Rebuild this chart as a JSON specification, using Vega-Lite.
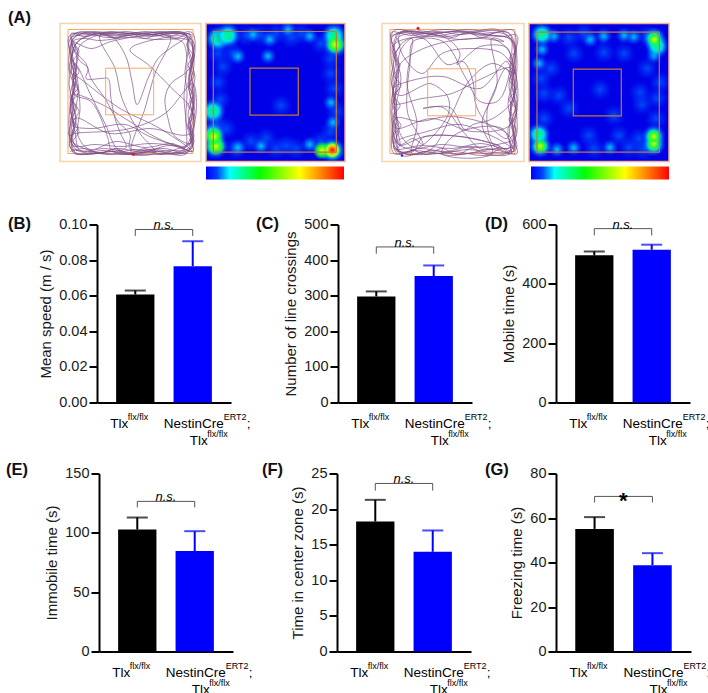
{
"$schema":"https://vega.github.io/schema/vega-lite/v6.json",
"padding":{"left":0,"top":3.5,"right":0,"bottom":0},"background":"white","spacing":0,
"config":{"font":"Liberation Sans","view":{"stroke":null},
"axis":{"grid":false,"domainColor":"#000","domainWidth":2,"tickColor":"#000","tickWidth":2,"tickSize":8,"labelFontSize":14.5,"titleFontSize":15,"titleFontWeight":"normal","labelColor":"#1a1a1a","titleColor":"#1a1a1a","titlePadding":5,"labelPadding":2},
"title":{"fontSize":16.5,"fontWeight":"bold","anchor":"start","frame":"group","color":"#111"},
"style":{"la":{"dx":-25,"dy":21,"fontSize":13.5,"align":"left"},"lb":{"dx":-7.5,"dy":14,"fontSize":9,"align":"left"},"lc":{"dx":-29,"dy":21,"fontSize":13.5,"align":"left"},"ld":{"dx":31,"dy":14,"fontSize":9,"align":"left"},"le":{"dx":54,"dy":21,"fontSize":13.5,"align":"left"},"lf":{"dx":-3,"dy":38,"fontSize":13.5,"align":"left"},"lg":{"dx":14.5,"dy":31,"fontSize":9,"align":"left"},"ns":{"dx":28.7,"dy":-4,"fontSize":13,"fontStyle":"italic","align":"center"},"star":{"dx":28.7,"dy":5,"fontSize":22,"fontWeight":"bold","align":"center"},"tb":{"fontSize":16.4,"align":"left"},"ts":{"fontSize":11,"align":"left"}}},
"datasets":{
"nil":[{"a":1}],
"la":[{"g":"Tlx","v":0,"t":"Tlx"}],"lb":[{"g":"Tlx","v":0,"t":"flx/flx"}],"lc":[{"g":"Nestin","v":0,"t":"NestinCre"}],"ld":[{"g":"Nestin","v":0,"t":"ERT2"}],"le":[{"g":"Nestin","v":0,"t":";"}],"lf":[{"g":"Nestin","v":0,"t":"Tlx"}],"lg":[{"g":"Nestin","v":0,"t":"flx/flx"}],
"trackA":[{"x":73,"y":130},{"x":50,"y":128},{"x":28,"y":131},{"x":12,"y":127},{"x":10,"y":105},{"x":13,"y":82},{"x":9,"y":60},{"x":12,"y":38},{"x":9,"y":18},{"x":18,"y":9},{"x":40,"y":12},{"x":65,"y":8},{"x":90,"y":11},{"x":115,"y":8},{"x":130,"y":12},{"x":133,"y":35},{"x":129,"y":58},{"x":134,"y":80},{"x":130,"y":105},{"x":132,"y":124},{"x":118,"y":129},{"x":95,"y":126},{"x":70,"y":129},{"x":45,"y":125},{"x":20,"y":127},{"x":15,"y":108},{"x":11,"y":88},{"x":15,"y":66},{"x":11,"y":44},{"x":15,"y":22},{"x":28,"y":12},{"x":52,"y":10},{"x":78,"y":13},{"x":104,"y":10},{"x":127,"y":13},{"x":129,"y":32},{"x":135,"y":54},{"x":130,"y":76},{"x":134,"y":98},{"x":129,"y":118},{"x":122,"y":127},{"x":100,"y":130},{"x":75,"y":126},{"x":48,"y":131},{"x":22,"y":124},{"x":13,"y":118},{"x":16,"y":96},{"x":10,"y":74},{"x":14,"y":52},{"x":10,"y":30},{"x":14,"y":14},{"x":35,"y":8},{"x":60,"y":12},{"x":85,"y":8},{"x":110,"y":12},{"x":132,"y":9},{"x":135,"y":28},{"x":131,"y":48},{"x":133,"y":72},{"x":128,"y":92},{"x":133,"y":112},{"x":127,"y":129},{"x":105,"y":125},{"x":70,"y":125},{"x":70,"y":111},{"x":58,"y":98},{"x":45,"y":75},{"x":31,"y":55},{"x":26,"y":40},{"x":17,"y":30},{"x":11,"y":18},{"x":31,"y":25},{"x":51,"y":18},{"x":91,"y":11},{"x":125,"y":10},{"x":128,"y":25},{"x":125,"y":48},{"x":127,"y":70},{"x":126,"y":98},{"x":131,"y":120},{"x":114,"y":112},{"x":108,"y":95},{"x":105,"y":75},{"x":111,"y":60},{"x":127,"y":48},{"x":134,"y":34},{"x":126,"y":14},{"x":100,"y":15},{"x":70,"y":26},{"x":88,"y":41},{"x":112,"y":65},{"x":131,"y":85},{"x":134,"y":105},{"x":127,"y":122},{"x":92,"y":114},{"x":65,"y":101},{"x":31,"y":105},{"x":11,"y":101},{"x":14,"y":82},{"x":12,"y":71},{"x":42,"y":81},{"x":65,"y":95},{"x":98,"y":115},{"x":128,"y":128},{"x":90,"y":131},{"x":52,"y":127},{"x":48,"y":115},{"x":41,"y":95},{"x":31,"y":78},{"x":13,"y":70},{"x":16,"y":48},{"x":20,"y":22},{"x":48,"y":11},{"x":65,"y":31},{"x":72,"y":58},{"x":77,"y":81},{"x":88,"y":55},{"x":98,"y":35},{"x":110,"y":25},{"x":127,"y":12},{"x":100,"y":9},{"x":75,"y":11},{"x":48,"y":14},{"x":25,"y":10},{"x":12,"y":12},{"x":18,"y":35},{"x":28,"y":45},{"x":26,"y":55},{"x":41,"y":55},{"x":48,"y":55},{"x":51,"y":75},{"x":55,"y":95},{"x":61,"y":111},{"x":66,"y":124},{"x":40,"y":129},{"x":15,"y":129},{"x":15,"y":95},{"x":50,"y":110},{"x":90,"y":105},{"x":130,"y":110},{"x":133,"y":60},{"x":105,"y":90},{"x":70,"y":105},{"x":15,"y":110},{"x":9,"y":112},{"x":14,"y":90},{"x":18,"y":70},{"x":15,"y":50},{"x":18,"y":30},{"x":12,"y":20},{"x":10,"y":48},{"x":20,"y":55},{"x":60,"y":85},{"x":100,"y":105},{"x":132,"y":128},{"x":110,"y":122},{"x":72,"y":130},{"x":85,"y":85},{"x":95,"y":50},{"x":110,"y":12},{"x":70,"y":10},{"x":40,"y":12},{"x":55,"y":45},{"x":62,"y":75},{"x":80,"y":110},{"x":95,"y":129},{"x":60,"y":128},{"x":45,"y":100},{"x":30,"y":70},{"x":15,"y":40},{"x":13,"y":68},{"x":9,"y":95},{"x":13,"y":122},{"x":35,"y":121},{"x":62,"y":123},{"x":90,"y":120},{"x":118,"y":123},{"x":133,"y":128},{"x":130,"y":110},{"x":135,"y":88},{"x":129,"y":66},{"x":134,"y":42},{"x":130,"y":18},{"x":108,"y":14},{"x":82,"y":10},{"x":56,"y":14},{"x":30,"y":9},{"x":13,"y":16},{"x":18,"y":60},{"x":20,"y":85},{"x":18,"y":112},{"x":30,"y":126},{"x":56,"y":118},{"x":85,"y":124},{"x":112,"y":120},{"x":125,"y":124},{"x":126,"y":100},{"x":124,"y":72},{"x":127,"y":40},{"x":122,"y":18},{"x":95,"y":16},{"x":68,"y":14},{"x":40,"y":17},{"x":20,"y":16},{"x":11,"y":36},{"x":16,"y":58},{"x":10,"y":80},{"x":14,"y":104},{"x":10,"y":124},{"x":30,"y":128},{"x":60,"y":131},{"x":95,"y":128},{"x":125,"y":131},{"x":134,"y":118},{"x":128,"y":102},{"x":133,"y":84},{"x":128,"y":60},{"x":132,"y":38},{"x":127,"y":20},{"x":132,"y":12},{"x":112,"y":10},{"x":92,"y":13},{"x":70,"y":10},{"x":46,"y":9},{"x":24,"y":13},{"x":11,"y":10},{"x":13,"y":28},{"x":9,"y":46},{"x":14,"y":64},{"x":10,"y":86},{"x":14,"y":100},{"x":11,"y":116},{"x":16,"y":126},{"x":38,"y":130},{"x":58,"y":125},{"x":82,"y":129},{"x":108,"y":127},{"x":128,"y":125},{"x":131,"y":96},{"x":135,"y":72},{"x":130,"y":44},{"x":134,"y":20},{"x":120,"y":9},{"x":98,"y":12},{"x":74,"y":9},{"x":50,"y":12},{"x":26,"y":8},{"x":9,"y":13},{"x":12,"y":34},{"x":16,"y":54},{"x":12,"y":76},{"x":16,"y":94},{"x":12,"y":112},{"x":14,"y":130},{"x":44,"y":127},{"x":68,"y":131},{"x":92,"y":127},{"x":120,"y":130},{"x":133,"y":120},{"x":129,"y":100},{"x":134,"y":76},{"x":129,"y":52},{"x":133,"y":30},{"x":129,"y":14},{"x":105,"y":8},{"x":78,"y":11},{"x":52,"y":8},{"x":28,"y":11},{"x":12,"y":14},{"x":16,"y":24},{"x":11,"y":34},{"x":17,"y":44},{"x":12,"y":54},{"x":18,"y":64},{"x":11,"y":74},{"x":17,"y":84},{"x":12,"y":94},{"x":18,"y":104},{"x":11,"y":114},{"x":17,"y":124},{"x":13,"y":118},{"x":19,"y":108},{"x":13,"y":98},{"x":19,"y":88},{"x":13,"y":78},{"x":19,"y":68},{"x":13,"y":58},{"x":19,"y":48},{"x":13,"y":38},{"x":19,"y":28},{"x":13,"y":18},{"x":25,"y":14},{"x":40,"y":9},{"x":55,"y":15},{"x":70,"y":10},{"x":85,"y":15},{"x":100,"y":10},{"x":115,"y":15},{"x":130,"y":10},{"x":127,"y":22},{"x":133,"y":32},{"x":128,"y":42},{"x":134,"y":52},{"x":128,"y":62},{"x":134,"y":72},{"x":128,"y":82},{"x":134,"y":92},{"x":128,"y":102},{"x":134,"y":112},{"x":128,"y":122},{"x":115,"y":126},{"x":100,"y":131},{"x":85,"y":125},{"x":70,"y":130},{"x":55,"y":125},{"x":40,"y":130},{"x":25,"y":125},{"x":10,"y":128}],
"trackB":[{"x":36,"y":7},{"x":60,"y":9},{"x":85,"y":6},{"x":110,"y":9},{"x":131,"y":7},{"x":134,"y":28},{"x":130,"y":52},{"x":135,"y":76},{"x":130,"y":100},{"x":134,"y":126},{"x":112,"y":129},{"x":85,"y":126},{"x":58,"y":130},{"x":32,"y":127},{"x":12,"y":130},{"x":10,"y":105},{"x":13,"y":80},{"x":9,"y":55},{"x":13,"y":30},{"x":9,"y":9},{"x":30,"y":12},{"x":55,"y":8},{"x":80,"y":11},{"x":105,"y":7},{"x":128,"y":11},{"x":130,"y":35},{"x":135,"y":60},{"x":129,"y":85},{"x":134,"y":110},{"x":128,"y":128},{"x":100,"y":132},{"x":72,"y":128},{"x":45,"y":131},{"x":18,"y":128},{"x":14,"y":110},{"x":10,"y":88},{"x":15,"y":62},{"x":11,"y":38},{"x":16,"y":14},{"x":40,"y":10},{"x":64,"y":13},{"x":92,"y":9},{"x":120,"y":13},{"x":135,"y":12},{"x":131,"y":40},{"x":133,"y":68},{"x":128,"y":95},{"x":132,"y":122},{"x":105,"y":126},{"x":78,"y":131},{"x":50,"y":127},{"x":25,"y":131},{"x":11,"y":120},{"x":15,"y":96},{"x":11,"y":70},{"x":15,"y":45},{"x":11,"y":22},{"x":41,"y":15},{"x":65,"y":41},{"x":81,"y":38},{"x":91,"y":58},{"x":93,"y":78},{"x":101,"y":95},{"x":125,"y":115},{"x":128,"y":95},{"x":125,"y":38},{"x":98,"y":65},{"x":61,"y":53},{"x":38,"y":55},{"x":11,"y":65},{"x":18,"y":72},{"x":41,"y":62},{"x":48,"y":60},{"x":65,"y":72},{"x":67,"y":88},{"x":55,"y":108},{"x":35,"y":125},{"x":15,"y":127},{"x":13,"y":95},{"x":38,"y":98},{"x":65,"y":93},{"x":98,"y":98},{"x":126,"y":111},{"x":133,"y":125},{"x":115,"y":115},{"x":78,"y":101},{"x":45,"y":108},{"x":15,"y":118},{"x":18,"y":122},{"x":43,"y":113},{"x":78,"y":113},{"x":118,"y":123},{"x":100,"y":126},{"x":81,"y":108},{"x":61,"y":84},{"x":41,"y":85},{"x":68,"y":84},{"x":83,"y":106},{"x":91,"y":101},{"x":111,"y":95},{"x":131,"y":75},{"x":124,"y":45},{"x":112,"y":68},{"x":105,"y":88},{"x":111,"y":121},{"x":128,"y":128},{"x":120,"y":105},{"x":75,"y":110},{"x":60,"y":130},{"x":110,"y":130},{"x":100,"y":100},{"x":115,"y":60},{"x":110,"y":15},{"x":122,"y":18},{"x":98,"y":15},{"x":65,"y":18},{"x":35,"y":28},{"x":18,"y":41},{"x":14,"y":62},{"x":13,"y":98},{"x":18,"y":121},{"x":31,"y":115},{"x":41,"y":121},{"x":26,"y":91},{"x":25,"y":68},{"x":28,"y":41},{"x":31,"y":18},{"x":61,"y":18},{"x":84,"y":55},{"x":98,"y":78},{"x":115,"y":78},{"x":125,"y":60},{"x":126,"y":25},{"x":98,"y":23},{"x":88,"y":30},{"x":75,"y":41},{"x":78,"y":30},{"x":65,"y":15},{"x":40,"y":9},{"x":18,"y":10},{"x":20,"y":30},{"x":40,"y":50},{"x":60,"y":30},{"x":90,"y":25},{"x":120,"y":30},{"x":133,"y":50},{"x":110,"y":40},{"x":85,"y":60},{"x":70,"y":90},{"x":50,"y":125},{"x":30,"y":130},{"x":35,"y":100},{"x":25,"y":60},{"x":30,"y":15},{"x":18,"y":28},{"x":16,"y":65},{"x":12,"y":80},{"x":40,"y":75},{"x":70,"y":70},{"x":100,"y":55},{"x":130,"y":45},{"x":130,"y":100},{"x":90,"y":108},{"x":50,"y":95},{"x":15,"y":105},{"x":13,"y":100},{"x":18,"y":121},{"x":14,"y":127},{"x":31,"y":128},{"x":41,"y":114},{"x":78,"y":113},{"x":118,"y":123},{"x":129,"y":130},{"x":126,"y":105},{"x":134,"y":90},{"x":127,"y":62},{"x":133,"y":35},{"x":127,"y":15},{"x":100,"y":12},{"x":70,"y":8},{"x":42,"y":12},{"x":20,"y":8},{"x":12,"y":18},{"x":17,"y":45},{"x":10,"y":75},{"x":17,"y":105},{"x":12,"y":125},{"x":40,"y":122},{"x":70,"y":125},{"x":98,"y":120},{"x":128,"y":124},{"x":131,"y":105},{"x":126,"y":80},{"x":131,"y":55},{"x":127,"y":28},{"x":110,"y":15},{"x":78,"y":16},{"x":50,"y":13},{"x":25,"y":16},{"x":14,"y":30},{"x":19,"y":55},{"x":14,"y":85},{"x":19,"y":112},{"x":32,"y":124},{"x":60,"y":121},{"x":90,"y":124},{"x":120,"y":120},{"x":133,"y":115},{"x":135,"y":95},{"x":132,"y":70},{"x":135,"y":45},{"x":132,"y":20},{"x":115,"y":6},{"x":90,"y":8},{"x":62,"y":6},{"x":35,"y":9},{"x":12,"y":7},{"x":9,"y":32},{"x":12,"y":58},{"x":9,"y":85},{"x":12,"y":112},{"x":20,"y":132},{"x":44,"y":128},{"x":68,"y":132},{"x":94,"y":129},{"x":122,"y":132},{"x":131,"y":128},{"x":132,"y":108},{"x":128,"y":88},{"x":133,"y":64},{"x":129,"y":44},{"x":133,"y":22},{"x":126,"y":9},{"x":102,"y":11},{"x":76,"y":8},{"x":48,"y":10},{"x":24,"y":7},{"x":10,"y":14},{"x":14,"y":36},{"x":10,"y":60},{"x":15,"y":84},{"x":11,"y":108},{"x":15,"y":130},{"x":38,"y":125},{"x":64,"y":128},{"x":88,"y":123},{"x":116,"y":127},{"x":135,"y":130},{"x":131,"y":112},{"x":135,"y":86},{"x":130,"y":62},{"x":134,"y":38},{"x":129,"y":16},{"x":108,"y":12},{"x":82,"y":8},{"x":56,"y":12},{"x":30,"y":8},{"x":14,"y":12},{"x":18,"y":22},{"x":12,"y":32},{"x":18,"y":42},{"x":12,"y":52},{"x":19,"y":62},{"x":12,"y":72},{"x":18,"y":82},{"x":12,"y":92},{"x":19,"y":102},{"x":12,"y":112},{"x":18,"y":122},{"x":30,"y":126},{"x":45,"y":131},{"x":60,"y":125},{"x":75,"y":131},{"x":90,"y":125},{"x":105,"y":131},{"x":120,"y":125},{"x":132,"y":128},{"x":128,"y":116},{"x":134,"y":106},{"x":127,"y":96},{"x":134,"y":86},{"x":127,"y":76},{"x":134,"y":66},{"x":127,"y":56},{"x":134,"y":46},{"x":127,"y":36},{"x":134,"y":26},{"x":128,"y":14},{"x":115,"y":9},{"x":100,"y":14},{"x":85,"y":9},{"x":70,"y":14},{"x":55,"y":9},{"x":40,"y":14},{"x":25,"y":9},{"x":10,"y":12}]
},
"vconcat":[
{"width":1,"height":4,"data":{"name":"nil"},"mark":{"type":"point","opacity":0}},
{"hconcat":[
{"width":57,"height":1,"data":{"name":"nil"},"mark":{"type":"point","opacity":0}},
{"width":141,"height":156,"title":{"text":"(A)","dx":-52,"offset":-4},
"encoding":{"x":{"field":"x","type":"quantitative","scale":{"domain":[0,141],"nice":false,"zero":false},"axis":null},"y":{"field":"y","type":"quantitative","scale":{"domain":[0,156],"reverse":true,"nice":false,"zero":false},"axis":null},"x2":{"field":"x2"},"y2":{"field":"y2"}},
"layer":[
{"data":{"values":[{"x":8,"x2":133,"y":6,"y2":130}]},"mark":{"type":"rect","fill":"transparent","stroke":"#f4a860","strokeWidth":1}},
{"data":{"name":"trackA"},"transform":[{"window":[{"op":"row_number","as":"i"}]}],"mark":{"type":"line","interpolate":"catmull-rom","stroke":"#7d4a85","strokeWidth":0.8,"opacity":0.85},"encoding":{"x2":null,"y2":null,"order":{"field":"i","type":"quantitative"}}},
{"data":{"values":[{"x":45.7,"x2":93.7,"y":44.7,"y2":91.3}]},"mark":{"type":"rect","fill":"transparent","stroke":"#f4a860","strokeWidth":1}},
{"data":{"values":[{"x":73.3,"y":130.7}]},"mark":{"type":"point","filled":true,"fill":"#f01010","opacity":1,"size":9,"stroke":null},"encoding":{"x2":null,"y2":null}},
{"data":{"values":[{"x":0,"x2":141,"y":0,"y2":138}]},"mark":{"type":"rect","fill":"transparent","stroke":"#fbd2a9","strokeWidth":1.5}},
{"data":{"values":[{"t":"Tlx"}]},"mark":{"type":"text","style":"tb"},"encoding":{"x":{"datum":124},"y":{"datum":-9},"x2":null,"y2":null,"text":{"field":"t"}}},
{"data":{"values":[{"t":"flx/flx"}]},"mark":{"type":"text","style":"ts"},"encoding":{"x":{"datum":145},"y":{"datum":-14},"x2":null,"y2":null,"text":{"field":"t"}}}
]},
{"width":5,"height":1,"data":{"name":"nil"},"mark":{"type":"point","opacity":0}},
{"width":139,"height":156,
"encoding":{"x":{"field":"x","type":"quantitative","scale":{"domain":[0,139],"nice":false,"zero":false},"axis":null},"y":{"field":"y","type":"quantitative","scale":{"domain":[0,156],"reverse":true,"nice":false,"zero":false},"axis":null},"x2":{"field":"x2"},"y2":{"field":"y2"}},
"layer":[
{"data":{"values":[{"x":0,"x2":139,"y":0,"y2":138}]},"mark":{"type":"rect","fill":"#0000e6"}},
{"data":{"values":[{"x":17,"y":43},{"x":12,"y":59},{"x":14,"y":76},{"x":27,"y":30},{"x":125,"y":50},{"x":128,"y":65},{"x":125,"y":108},{"x":90,"y":125},{"x":70,"y":125},{"x":45,"y":118},{"x":20,"y":105},{"x":40,"y":12},{"x":70,"y":10},{"x":95,"y":10},{"x":115,"y":20},{"x":75,"y":82},{"x":60,"y":115},{"x":30,"y":125},{"x":115,"y":118},{"x":12,"y":30},{"x":125,"y":35},{"x":80,"y":122},{"x":55,"y":12},{"x":85,"y":14},{"x":130,"y":88},{"x":10,"y":100}]},"mark":{"type":"point","clip":true,"filled":true,"opacity":1,"stroke":null,"size":520,"fill":{"gradient":"radial","x1":0.5,"y1":0.5,"r1":0,"x2":0.5,"y2":0.5,"r2":0.5,"stops":[{"offset":0,"color":"rgba(0,100,255,0.75)"},{"offset":1,"color":"rgba(0,60,255,0)"}]}},"encoding":{"x2":null,"y2":null}},
{"data":{"values":[{"x":32,"y":124},{"x":55,"y":122.7},{"x":103.7,"y":121},{"x":47,"y":11},{"x":63.7,"y":16},{"x":62,"y":32.7},{"x":32,"y":33},{"x":82,"y":6},{"x":103.7,"y":12.7},{"x":125,"y":79},{"x":127,"y":99}]},"mark":{"type":"point","clip":true,"filled":true,"opacity":1,"stroke":null,"size":300,"fill":{"gradient":"radial","x1":0.5,"y1":0.5,"r1":0,"x2":0.5,"y2":0.5,"r2":0.5,"stops":[{"offset":0,"color":"rgba(0,215,255,0.95)"},{"offset":0.45,"color":"rgba(0,150,255,0.6)"},{"offset":1,"color":"rgba(0,60,255,0)"}]}},"encoding":{"x2":null,"y2":null}},
{"data":{"values":[{"x":12,"y":15.3},{"x":22,"y":12},{"x":129.3,"y":21},{"x":7,"y":87.7},{"x":7,"y":111},{"x":9.7,"y":122.7},{"x":126.3,"y":126.7},{"x":128,"y":12}]},"mark":{"type":"point","clip":true,"filled":true,"opacity":1,"stroke":null,"size":700,"fill":{"gradient":"radial","x1":0.5,"y1":0.5,"r1":0,"x2":0.5,"y2":0.5,"r2":0.5,"stops":[{"offset":0,"color":"rgba(0,255,100,1)"},{"offset":0.45,"color":"rgba(0,240,240,0.9)"},{"offset":1,"color":"rgba(0,60,255,0)"}]}},"encoding":{"x2":null,"y2":null}},
{"data":{"values":[{"x":129.3,"y":21},{"x":9.7,"y":122.7},{"x":8,"y":113},{"x":126.3,"y":126.7},{"x":116,"y":127}]},"mark":{"type":"point","clip":true,"filled":true,"opacity":1,"stroke":null,"size":350,"fill":{"gradient":"radial","x1":0.5,"y1":0.5,"r1":0,"x2":0.5,"y2":0.5,"r2":0.5,"stops":[{"offset":0,"color":"rgba(240,255,0,1)"},{"offset":0.55,"color":"rgba(30,255,40,0.9)"},{"offset":1,"color":"rgba(0,255,100,0)"}]}},"encoding":{"x2":null,"y2":null}},
{"data":{"values":[{"x":126.3,"y":126.7}]},"mark":{"type":"point","clip":true,"filled":true,"opacity":1,"stroke":null,"size":220,"fill":{"gradient":"radial","x1":0.5,"y1":0.5,"r1":0,"x2":0.5,"y2":0.5,"r2":0.5,"stops":[{"offset":0,"color":"rgba(240,0,0,1)"},{"offset":0.4,"color":"rgba(255,130,0,1)"},{"offset":0.7,"color":"rgba(255,240,0,0.8)"},{"offset":1,"color":"rgba(240,255,0,0)"}]}},"encoding":{"x2":null,"y2":null}},
{"data":{"values":[{"x":0,"x2":139,"y":139,"y2":156}]},"mark":{"type":"rect","fill":"white"}},
{"data":{"values":[{"x":7.3,"x2":130.3,"y":8,"y2":128.7},{"x":44,"x2":92.3,"y":44.7,"y2":91.7}]},"mark":{"type":"rect","fill":"transparent","stroke":"#c07838","strokeWidth":1.2}},
{"data":{"values":[{"x":0,"x2":139,"y":0,"y2":138}]},"mark":{"type":"rect","fill":"transparent","stroke":"#f4b183","strokeWidth":1.5}},
{"data":{"values":[{"x":0,"x2":138,"y":143,"y2":156}]},"mark":{"type":"rect","fill":{"gradient":"linear","x1":0,"y1":0,"x2":1,"y2":0,"stops":[{"offset":0,"color":"#0000ff"},{"offset":0.08,"color":"#0040ff"},{"offset":0.17,"color":"#00ffff"},{"offset":0.39,"color":"#00ff00"},{"offset":0.68,"color":"#ffff00"},{"offset":0.82,"color":"#ff9000"},{"offset":1,"color":"#ff0000"}]}}},
{"data":{"values":[{"t":"0s"}]},"mark":{"type":"text","fontSize":8,"fontWeight":"bold","align":"left"},"encoding":{"x":{"datum":3},"y":{"datum":153},"x2":null,"y2":null,"fill":{"value":"#ffffff"},"text":{"field":"t"}}},
{"data":{"values":[{"t":"~30s"}]},"mark":{"type":"text","fontSize":8,"fontWeight":"bold","align":"left"},"encoding":{"x":{"datum":117},"y":{"datum":153},"x2":null,"y2":null,"fill":{"value":"#ffffff"},"text":{"field":"t"}}}
]},
{"width":37,"height":1,"data":{"name":"nil"},"mark":{"type":"point","opacity":0}},
{"width":142,"height":156,
"encoding":{"x":{"field":"x","type":"quantitative","scale":{"domain":[0,142],"nice":false,"zero":false},"axis":null},"y":{"field":"y","type":"quantitative","scale":{"domain":[0,156],"reverse":true,"nice":false,"zero":false},"axis":null},"x2":{"field":"x2"},"y2":{"field":"y2"}},
"layer":[
{"data":{"values":[{"x":8,"x2":133,"y":6,"y2":130}]},"mark":{"type":"rect","fill":"transparent","stroke":"#f4a860","strokeWidth":1}},
{"data":{"name":"trackB"},"transform":[{"window":[{"op":"row_number","as":"i"}]}],"mark":{"type":"line","interpolate":"catmull-rom","stroke":"#7d4a85","strokeWidth":0.8,"opacity":0.85},"encoding":{"x2":null,"y2":null,"order":{"field":"i","type":"quantitative"}}},
{"data":{"values":[{"x":45.7,"x2":93.7,"y":45.3,"y2":92.3}]},"mark":{"type":"rect","fill":"transparent","stroke":"#f4a860","strokeWidth":1}},
{"data":{"values":[{"x":36,"y":4.7}]},"mark":{"type":"point","filled":true,"fill":"#f01010","opacity":1,"size":9,"stroke":null},"encoding":{"x2":null,"y2":null}},
{"data":{"values":[{"x":20,"y":132}]},"mark":{"type":"point","filled":true,"fill":"#2020f0","opacity":1,"size":6,"stroke":null},"encoding":{"x2":null,"y2":null}},
{"data":{"values":[{"x":0,"x2":142,"y":0,"y2":138}]},"mark":{"type":"rect","fill":"transparent","stroke":"#fbd2a9","strokeWidth":1.5}},
{"data":{"values":[{"t":"NestinCre"}]},"mark":{"type":"text","style":"tb"},"encoding":{"x":{"datum":68},"y":{"datum":-9},"x2":null,"y2":null,"text":{"field":"t"}}},
{"data":{"values":[{"t":"ERT2"}]},"mark":{"type":"text","style":"ts"},"encoding":{"x":{"datum":141},"y":{"datum":-14},"x2":null,"y2":null,"text":{"field":"t"}}},
{"data":{"values":[{"t":";"}]},"mark":{"type":"text","style":"tb"},"encoding":{"x":{"datum":168},"y":{"datum":-9},"x2":null,"y2":null,"text":{"field":"t"}}},
{"data":{"values":[{"t":"Tlx"}]},"mark":{"type":"text","style":"tb"},"encoding":{"x":{"datum":173},"y":{"datum":-9},"x2":null,"y2":null,"text":{"field":"t"}}},
{"data":{"values":[{"t":"flx/flx"}]},"mark":{"type":"text","style":"ts"},"encoding":{"x":{"datum":195},"y":{"datum":-14},"x2":null,"y2":null,"text":{"field":"t"}}}
]},
{"width":5,"height":1,"data":{"name":"nil"},"mark":{"type":"point","opacity":0}},
{"width":140,"height":156,
"encoding":{"x":{"field":"x","type":"quantitative","scale":{"domain":[0,140],"nice":false,"zero":false},"axis":null},"y":{"field":"y","type":"quantitative","scale":{"domain":[0,156],"reverse":true,"nice":false,"zero":false},"axis":null},"x2":{"field":"x2"},"y2":{"field":"y2"}},
"layer":[
{"data":{"values":[{"x":0,"x2":140,"y":0,"y2":138}]},"mark":{"type":"rect","fill":"#0000e6"}},
{"data":{"values":[{"x":30,"y":72},{"x":71,"y":66},{"x":111,"y":69},{"x":113,"y":81},{"x":131,"y":59},{"x":75,"y":29},{"x":45,"y":30},{"x":95,"y":30},{"x":60,"y":112},{"x":90,"y":112},{"x":110,"y":115},{"x":22,"y":45},{"x":118,"y":45},{"x":15,"y":70},{"x":15,"y":95},{"x":127,"y":95},{"x":40,"y":85},{"x":85,"y":92},{"x":40,"y":14},{"x":55,"y":10},{"x":118,"y":12},{"x":12,"y":55},{"x":128,"y":75},{"x":65,"y":125},{"x":100,"y":124},{"x":114,"y":126}]},"mark":{"type":"point","clip":true,"filled":true,"opacity":1,"stroke":null,"size":520,"fill":{"gradient":"radial","x1":0.5,"y1":0.5,"r1":0,"x2":0.5,"y2":0.5,"r2":0.5,"stops":[{"offset":0,"color":"rgba(0,100,255,0.75)"},{"offset":1,"color":"rgba(0,60,255,0)"}]}},"encoding":{"x2":null,"y2":null}},
{"data":{"values":[{"x":24.7,"y":12.7},{"x":13,"y":26},{"x":74.7,"y":12.7},{"x":61.3,"y":16},{"x":104.7,"y":13.3},{"x":95,"y":12},{"x":28,"y":126},{"x":44.7,"y":124.3},{"x":81,"y":124},{"x":10,"y":40},{"x":125,"y":32}]},"mark":{"type":"point","clip":true,"filled":true,"opacity":1,"stroke":null,"size":300,"fill":{"gradient":"radial","x1":0.5,"y1":0.5,"r1":0,"x2":0.5,"y2":0.5,"r2":0.5,"stops":[{"offset":0,"color":"rgba(0,215,255,0.95)"},{"offset":0.45,"color":"rgba(0,150,255,0.6)"},{"offset":1,"color":"rgba(0,60,255,0)"}]}},"encoding":{"x2":null,"y2":null}},
{"data":{"values":[{"x":13,"y":11},{"x":125.3,"y":15.3},{"x":128,"y":22.7},{"x":11.3,"y":122.7},{"x":9.7,"y":111},{"x":124.7,"y":121},{"x":124.7,"y":112.7}]},"mark":{"type":"point","clip":true,"filled":true,"opacity":1,"stroke":null,"size":600,"fill":{"gradient":"radial","x1":0.5,"y1":0.5,"r1":0,"x2":0.5,"y2":0.5,"r2":0.5,"stops":[{"offset":0,"color":"rgba(0,255,100,1)"},{"offset":0.45,"color":"rgba(0,240,240,0.9)"},{"offset":1,"color":"rgba(0,60,255,0)"}]}},"encoding":{"x2":null,"y2":null}},
{"data":{"values":[{"x":11.3,"y":122.7},{"x":124.7,"y":120},{"x":124.7,"y":113},{"x":125.3,"y":16}]},"mark":{"type":"point","clip":true,"filled":true,"opacity":1,"stroke":null,"size":220,"fill":{"gradient":"radial","x1":0.5,"y1":0.5,"r1":0,"x2":0.5,"y2":0.5,"r2":0.5,"stops":[{"offset":0,"color":"rgba(240,255,0,1)"},{"offset":0.55,"color":"rgba(30,255,40,0.9)"},{"offset":1,"color":"rgba(0,255,100,0)"}]}},"encoding":{"x2":null,"y2":null}},
{"data":{"values":[{"x":0,"x2":140,"y":139,"y2":156}]},"mark":{"type":"rect","fill":"white"}},
{"data":{"values":[{"x":8,"x2":130.3,"y":8.7,"y2":128.7},{"x":44.3,"x2":92.3,"y":45.7,"y2":92.3}]},"mark":{"type":"rect","fill":"transparent","stroke":"#c07838","strokeWidth":1.2}},
{"data":{"values":[{"x":0,"x2":140,"y":0,"y2":138}]},"mark":{"type":"rect","fill":"transparent","stroke":"#f4b183","strokeWidth":1.5}},
{"data":{"values":[{"x":2,"x2":140,"y":143,"y2":156}]},"mark":{"type":"rect","fill":{"gradient":"linear","x1":0,"y1":0,"x2":1,"y2":0,"stops":[{"offset":0,"color":"#0000ff"},{"offset":0.08,"color":"#0040ff"},{"offset":0.17,"color":"#00ffff"},{"offset":0.39,"color":"#00ff00"},{"offset":0.68,"color":"#ffff00"},{"offset":0.82,"color":"#ff9000"},{"offset":1,"color":"#ff0000"}]}}},
{"data":{"values":[{"t":"0s"}]},"mark":{"type":"text","fontSize":8,"fontWeight":"bold","align":"left"},"encoding":{"x":{"datum":5},"y":{"datum":153},"x2":null,"y2":null,"fill":{"value":"#ffffff"},"text":{"field":"t"}}},
{"data":{"values":[{"t":"~30s"}]},"mark":{"type":"text","fontSize":8,"fontWeight":"bold","align":"left"},"encoding":{"x":{"datum":119},"y":{"datum":153},"x2":null,"y2":null,"fill":{"value":"#ffffff"},"text":{"field":"t"}}}
]}
],"spacing":0,"bounds":"flush"},
{"width":1,"height":36,"data":{"name":"nil"},"mark":{"type":"point","opacity":0}},
{"hconcat":[
{"width":94,"height":1,"data":{"name":"nil"},"mark":{"type":"point","opacity":0}},
{"width":134,"height":178,"title":{"text":"(B)","dx":-89,"offset":-16},
"encoding":{"x":{"field":"g","type":"nominal","scale":{"type":"band","domain":["Tlx","Nestin"],"paddingInner":0.333,"paddingOuter":0.333},"axis":{"title":null,"labels":false,"ticks":false}},"y":{"field":"v","type":"quantitative","scale":{"domain":[0,0.1],"nice":false},"axis":{"title":"Mean speed (m / s)","values":[0,0.02,0.04,0.06,0.08,0.1],"format":".2f"}}},
"layer":[
{"data":{"values":[{"g":"Tlx","v":0.0607,"u":0.0629},{"g":"Nestin","v":0.0766,"u":0.0906}]},"mark":{"type":"bar"},"encoding":{"color":{"field":"g","type":"nominal","scale":{"domain":["Tlx","Nestin"],"range":["#000000","#0000ff"]},"legend":null}}},
{"data":{"values":[{"g":"Tlx","v":0.0607,"u":0.0629},{"g":"Nestin","v":0.0766,"u":0.0906}]},"mark":{"type":"rule","strokeWidth":2},"encoding":{"y2":{"field":"u"},"color":{"field":"g","type":"nominal","legend":null}}},
{"data":{"values":[{"g":"Tlx","v":0.0629},{"g":"Nestin","v":0.0906}]},"mark":{"type":"tick","size":21,"thickness":2},"encoding":{"color":{"field":"g","type":"nominal","legend":null}}},
{"data":{"values":[{"g":"Tlx","v":0.0936,"i":1},{"g":"Tlx","v":0.0972,"i":2},{"g":"Nestin","v":0.0972,"i":3},{"g":"Nestin","v":0.0936,"i":4}]},"mark":{"type":"line","stroke":"#555","strokeWidth":1},"encoding":{"order":{"field":"i","type":"quantitative"}}},
{"data":{"values":[{"g":"Tlx","v":0.0972,"t":"n.s."}]},"mark":{"type":"text","style":"ns"},"encoding":{"text":{"field":"t"}}},
{"data":{"name":"la"},"mark":{"type":"text","style":"la"},"encoding":{"text":{"field":"t"}}},
{"data":{"name":"lb"},"mark":{"type":"text","style":"lb"},"encoding":{"text":{"field":"t"}}},
{"data":{"name":"lc"},"mark":{"type":"text","style":"lc"},"encoding":{"text":{"field":"t"}}},
{"data":{"name":"ld"},"mark":{"type":"text","style":"ld"},"encoding":{"text":{"field":"t"}}},
{"data":{"name":"le"},"mark":{"type":"text","style":"le"},"encoding":{"text":{"field":"t"}}},
{"data":{"name":"lf"},"mark":{"type":"text","style":"lf"},"encoding":{"text":{"field":"t"}}},
{"data":{"name":"lg"},"mark":{"type":"text","style":"lg"},"encoding":{"text":{"field":"t"}}}
]},
{"width":107,"height":1,"data":{"name":"nil"},"mark":{"type":"point","opacity":0}},
{"width":134,"height":178,"title":{"text":"(C)","dx":-82,"offset":-16},
"encoding":{"x":{"field":"g","type":"nominal","scale":{"type":"band","domain":["Tlx","Nestin"],"paddingInner":0.333,"paddingOuter":0.333},"axis":{"title":null,"labels":false,"ticks":false}},"y":{"field":"v","type":"quantitative","scale":{"domain":[0,500],"nice":false},"axis":{"title":"Number of line crossings","values":[0,100,200,300,400,500]}}},
"layer":[
{"data":{"values":[{"g":"Tlx","v":298,"u":312},{"g":"Nestin","v":355,"u":385}]},"mark":{"type":"bar"},"encoding":{"color":{"field":"g","type":"nominal","scale":{"domain":["Tlx","Nestin"],"range":["#000000","#0000ff"]},"legend":null}}},
{"data":{"values":[{"g":"Tlx","v":298,"u":312},{"g":"Nestin","v":355,"u":385}]},"mark":{"type":"rule","strokeWidth":2},"encoding":{"y2":{"field":"u"},"color":{"field":"g","type":"nominal","legend":null}}},
{"data":{"values":[{"g":"Tlx","v":312},{"g":"Nestin","v":385}]},"mark":{"type":"tick","size":21,"thickness":2},"encoding":{"color":{"field":"g","type":"nominal","legend":null}}},
{"data":{"values":[{"g":"Tlx","v":418,"i":1},{"g":"Tlx","v":437,"i":2},{"g":"Nestin","v":437,"i":3},{"g":"Nestin","v":418,"i":4}]},"mark":{"type":"line","stroke":"#555","strokeWidth":1},"encoding":{"order":{"field":"i","type":"quantitative"}}},
{"data":{"values":[{"g":"Tlx","v":437,"t":"n.s."}]},"mark":{"type":"text","style":"ns"},"encoding":{"text":{"field":"t"}}},
{"data":{"name":"la"},"mark":{"type":"text","style":"la"},"encoding":{"text":{"field":"t"}}},
{"data":{"name":"lb"},"mark":{"type":"text","style":"lb"},"encoding":{"text":{"field":"t"}}},
{"data":{"name":"lc"},"mark":{"type":"text","style":"lc"},"encoding":{"text":{"field":"t"}}},
{"data":{"name":"ld"},"mark":{"type":"text","style":"ld"},"encoding":{"text":{"field":"t"}}},
{"data":{"name":"le"},"mark":{"type":"text","style":"le"},"encoding":{"text":{"field":"t"}}},
{"data":{"name":"lf"},"mark":{"type":"text","style":"lf"},"encoding":{"text":{"field":"t"}}},
{"data":{"name":"lg"},"mark":{"type":"text","style":"lg"},"encoding":{"text":{"field":"t"}}}
]},
{"width":84,"height":1,"data":{"name":"nil"},"mark":{"type":"point","opacity":0}},
{"width":134,"height":178,"title":{"text":"(D)","dx":-71,"offset":-16},
"encoding":{"x":{"field":"g","type":"nominal","scale":{"type":"band","domain":["Tlx","Nestin"],"paddingInner":0.333,"paddingOuter":0.333},"axis":{"title":null,"labels":false,"ticks":false}},"y":{"field":"v","type":"quantitative","scale":{"domain":[0,600],"nice":false},"axis":{"title":"Mobile time (s)","values":[0,200,400,600]}}},
"layer":[
{"data":{"values":[{"g":"Tlx","v":496,"u":509},{"g":"Nestin","v":515,"u":532}]},"mark":{"type":"bar"},"encoding":{"color":{"field":"g","type":"nominal","scale":{"domain":["Tlx","Nestin"],"range":["#000000","#0000ff"]},"legend":null}}},
{"data":{"values":[{"g":"Tlx","v":496,"u":509},{"g":"Nestin","v":515,"u":532}]},"mark":{"type":"rule","strokeWidth":2},"encoding":{"y2":{"field":"u"},"color":{"field":"g","type":"nominal","legend":null}}},
{"data":{"values":[{"g":"Tlx","v":509},{"g":"Nestin","v":532}]},"mark":{"type":"tick","size":21,"thickness":2},"encoding":{"color":{"field":"g","type":"nominal","legend":null}}},
{"data":{"values":[{"g":"Tlx","v":563,"i":1},{"g":"Tlx","v":586,"i":2},{"g":"Nestin","v":586,"i":3},{"g":"Nestin","v":563,"i":4}]},"mark":{"type":"line","stroke":"#555","strokeWidth":1},"encoding":{"order":{"field":"i","type":"quantitative"}}},
{"data":{"values":[{"g":"Tlx","v":586,"t":"n.s."}]},"mark":{"type":"text","style":"ns"},"encoding":{"text":{"field":"t"}}},
{"data":{"name":"la"},"mark":{"type":"text","style":"la"},"encoding":{"text":{"field":"t"}}},
{"data":{"name":"lb"},"mark":{"type":"text","style":"lb"},"encoding":{"text":{"field":"t"}}},
{"data":{"name":"lc"},"mark":{"type":"text","style":"lc"},"encoding":{"text":{"field":"t"}}},
{"data":{"name":"ld"},"mark":{"type":"text","style":"ld"},"encoding":{"text":{"field":"t"}}},
{"data":{"name":"le"},"mark":{"type":"text","style":"le"},"encoding":{"text":{"field":"t"}}},
{"data":{"name":"lf"},"mark":{"type":"text","style":"lf"},"encoding":{"text":{"field":"t"}}},
{"data":{"name":"lg"},"mark":{"type":"text","style":"lg"},"encoding":{"text":{"field":"t"}}}
]}
],"spacing":0,"bounds":"flush"},
{"width":1,"height":14,"data":{"name":"nil"},"mark":{"type":"point","opacity":0}},
{"hconcat":[
{"width":96,"height":1,"data":{"name":"nil"},"mark":{"type":"point","opacity":0}},
{"width":134,"height":178,"title":{"text":"(E)","dx":-93,"offset":-13},
"encoding":{"x":{"field":"g","type":"nominal","scale":{"type":"band","domain":["Tlx","Nestin"],"paddingInner":0.333,"paddingOuter":0.333},"axis":{"title":null,"labels":false,"ticks":false}},"y":{"field":"v","type":"quantitative","scale":{"domain":[0,150],"nice":false},"axis":{"title":"Immobile time (s)","values":[0,50,100,150]}}},
"layer":[
{"data":{"values":[{"g":"Tlx","v":102.8,"u":112.9},{"g":"Nestin","v":84.6,"u":101.4}]},"mark":{"type":"bar"},"encoding":{"color":{"field":"g","type":"nominal","scale":{"domain":["Tlx","Nestin"],"range":["#000000","#0000ff"]},"legend":null}}},
{"data":{"values":[{"g":"Tlx","v":102.8,"u":112.9},{"g":"Nestin","v":84.6,"u":101.4}]},"mark":{"type":"rule","strokeWidth":2},"encoding":{"y2":{"field":"u"},"color":{"field":"g","type":"nominal","legend":null}}},
{"data":{"values":[{"g":"Tlx","v":112.9},{"g":"Nestin","v":101.4}]},"mark":{"type":"tick","size":21,"thickness":2},"encoding":{"color":{"field":"g","type":"nominal","legend":null}}},
{"data":{"values":[{"g":"Tlx","v":121.5,"i":1},{"g":"Tlx","v":126.5,"i":2},{"g":"Nestin","v":126.5,"i":3},{"g":"Nestin","v":121.5,"i":4}]},"mark":{"type":"line","stroke":"#555","strokeWidth":1},"encoding":{"order":{"field":"i","type":"quantitative"}}},
{"data":{"values":[{"g":"Tlx","v":126.5,"t":"n.s."}]},"mark":{"type":"text","style":"ns"},"encoding":{"text":{"field":"t"}}},
{"data":{"name":"la"},"mark":{"type":"text","style":"la"},"encoding":{"text":{"field":"t"}}},
{"data":{"name":"lb"},"mark":{"type":"text","style":"lb"},"encoding":{"text":{"field":"t"}}},
{"data":{"name":"lc"},"mark":{"type":"text","style":"lc"},"encoding":{"text":{"field":"t"}}},
{"data":{"name":"ld"},"mark":{"type":"text","style":"ld"},"encoding":{"text":{"field":"t"}}},
{"data":{"name":"le"},"mark":{"type":"text","style":"le"},"encoding":{"text":{"field":"t"}}},
{"data":{"name":"lf"},"mark":{"type":"text","style":"lf"},"encoding":{"text":{"field":"t"}}},
{"data":{"name":"lg"},"mark":{"type":"text","style":"lg"},"encoding":{"text":{"field":"t"}}}
]},
{"width":104,"height":1,"data":{"name":"nil"},"mark":{"type":"point","opacity":0}},
{"width":134,"height":178,"title":{"text":"(F)","dx":-75,"offset":-13},
"encoding":{"x":{"field":"g","type":"nominal","scale":{"type":"band","domain":["Tlx","Nestin"],"paddingInner":0.333,"paddingOuter":0.333},"axis":{"title":null,"labels":false,"ticks":false}},"y":{"field":"v","type":"quantitative","scale":{"domain":[0,25],"nice":false},"axis":{"title":"Time in center zone (s)","values":[0,5,10,15,20,25]}}},
"layer":[
{"data":{"values":[{"g":"Tlx","v":18.25,"u":21.3},{"g":"Nestin","v":14,"u":17}]},"mark":{"type":"bar"},"encoding":{"color":{"field":"g","type":"nominal","scale":{"domain":["Tlx","Nestin"],"range":["#000000","#0000ff"]},"legend":null}}},
{"data":{"values":[{"g":"Tlx","v":18.25,"u":21.3},{"g":"Nestin","v":14,"u":17}]},"mark":{"type":"rule","strokeWidth":2},"encoding":{"y2":{"field":"u"},"color":{"field":"g","type":"nominal","legend":null}}},
{"data":{"values":[{"g":"Tlx","v":21.3},{"g":"Nestin","v":17}]},"mark":{"type":"tick","size":21,"thickness":2},"encoding":{"color":{"field":"g","type":"nominal","legend":null}}},
{"data":{"values":[{"g":"Tlx","v":22.6,"i":1},{"g":"Tlx","v":23.6,"i":2},{"g":"Nestin","v":23.6,"i":3},{"g":"Nestin","v":22.6,"i":4}]},"mark":{"type":"line","stroke":"#555","strokeWidth":1},"encoding":{"order":{"field":"i","type":"quantitative"}}},
{"data":{"values":[{"g":"Tlx","v":23.6,"t":"n.s."}]},"mark":{"type":"text","style":"ns"},"encoding":{"text":{"field":"t"}}},
{"data":{"name":"la"},"mark":{"type":"text","style":"la"},"encoding":{"text":{"field":"t"}}},
{"data":{"name":"lb"},"mark":{"type":"text","style":"lb"},"encoding":{"text":{"field":"t"}}},
{"data":{"name":"lc"},"mark":{"type":"text","style":"lc"},"encoding":{"text":{"field":"t"}}},
{"data":{"name":"ld"},"mark":{"type":"text","style":"ld"},"encoding":{"text":{"field":"t"}}},
{"data":{"name":"le"},"mark":{"type":"text","style":"le"},"encoding":{"text":{"field":"t"}}},
{"data":{"name":"lf"},"mark":{"type":"text","style":"lf"},"encoding":{"text":{"field":"t"}}},
{"data":{"name":"lg"},"mark":{"type":"text","style":"lg"},"encoding":{"text":{"field":"t"}}}
]},
{"width":85,"height":1,"data":{"name":"nil"},"mark":{"type":"point","opacity":0}},
{"width":135,"height":178,"title":{"text":"(G)","dx":-71,"offset":-13},
"encoding":{"x":{"field":"g","type":"nominal","scale":{"type":"band","domain":["Tlx","Nestin"],"paddingInner":0.333,"paddingOuter":0.333},"axis":{"title":null,"labels":false,"ticks":false}},"y":{"field":"v","type":"quantitative","scale":{"domain":[0,80],"nice":false},"axis":{"title":"Freezing time (s)","values":[0,20,40,60,80]}}},
"layer":[
{"data":{"values":[{"g":"Tlx","v":55.1,"u":60.4},{"g":"Nestin","v":38.8,"u":44.2}]},"mark":{"type":"bar"},"encoding":{"color":{"field":"g","type":"nominal","scale":{"domain":["Tlx","Nestin"],"range":["#000000","#0000ff"]},"legend":null}}},
{"data":{"values":[{"g":"Tlx","v":55.1,"u":60.4},{"g":"Nestin","v":38.8,"u":44.2}]},"mark":{"type":"rule","strokeWidth":2},"encoding":{"y2":{"field":"u"},"color":{"field":"g","type":"nominal","legend":null}}},
{"data":{"values":[{"g":"Tlx","v":60.4},{"g":"Nestin","v":44.2}]},"mark":{"type":"tick","size":21,"thickness":2},"encoding":{"color":{"field":"g","type":"nominal","legend":null}}},
{"data":{"values":[{"g":"Tlx","v":67,"i":1},{"g":"Tlx","v":69.7,"i":2},{"g":"Nestin","v":69.7,"i":3},{"g":"Nestin","v":67,"i":4}]},"mark":{"type":"line","stroke":"#555","strokeWidth":1},"encoding":{"order":{"field":"i","type":"quantitative"}}},
{"data":{"values":[{"g":"Tlx","v":69.7,"t":"*"}]},"mark":{"type":"text","style":"star"},"encoding":{"text":{"field":"t"}}},
{"data":{"name":"la"},"mark":{"type":"text","style":"la"},"encoding":{"text":{"field":"t"}}},
{"data":{"name":"lb"},"mark":{"type":"text","style":"lb"},"encoding":{"text":{"field":"t"}}},
{"data":{"name":"lc"},"mark":{"type":"text","style":"lc"},"encoding":{"text":{"field":"t"}}},
{"data":{"name":"ld"},"mark":{"type":"text","style":"ld"},"encoding":{"text":{"field":"t"}}},
{"data":{"name":"le"},"mark":{"type":"text","style":"le"},"encoding":{"text":{"field":"t"}}},
{"data":{"name":"lf"},"mark":{"type":"text","style":"lf"},"encoding":{"text":{"field":"t"}}},
{"data":{"name":"lg"},"mark":{"type":"text","style":"lg"},"encoding":{"text":{"field":"t"}}}
]}
],"spacing":0,"bounds":"flush"}
]}
